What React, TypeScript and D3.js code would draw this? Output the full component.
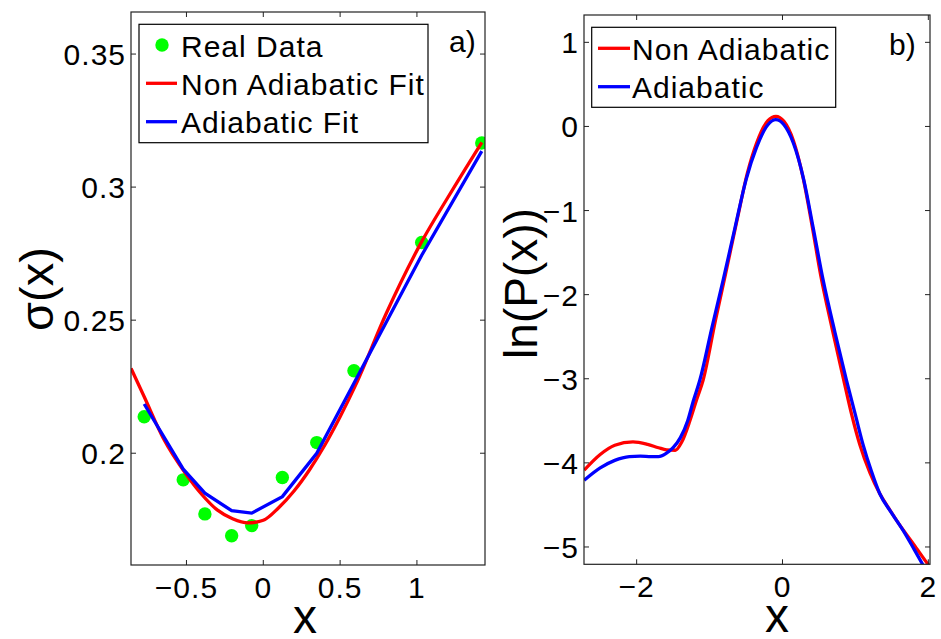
import React from 'react';
import * as d3 from 'd3';

// Panel a) data
const realX = [-0.775, -0.521, -0.38, -0.206, -0.0755, 0.124, 0.348, 0.59, 1.031, 1.422];
const realY = [0.2137, 0.19, 0.1772, 0.169, 0.1728, 0.1909, 0.204, 0.231, 0.2792, 0.3166];

const nonAdFitX = [-0.861, -0.775, -0.65, -0.5, -0.4, -0.3, -0.2, -0.1, 0, 0.1, 0.2, 0.3, 0.4, 0.5, 0.6, 0.8, 1.031, 1.2, 1.422];
const nonAdFitY = [0.2319, 0.2212, 0.2055, 0.1919, 0.1845, 0.1787, 0.1754, 0.1738, 0.1748, 0.1795, 0.1858, 0.1937, 0.203, 0.2137, 0.2255, 0.2525, 0.2795, 0.296, 0.3168];

const adFitX = [-0.775, -0.521, -0.38, -0.206, -0.0755, 0.124, 0.348, 0.59, 1.031, 1.422];
const adFitY = [0.2185, 0.194, 0.185, 0.1784, 0.1775, 0.1837, 0.2, 0.2263, 0.2744, 0.3135];

// Panel b) data
const nonAdPX = [-2.72, -2.5, -2.3, -2.05, -1.85, -1.7, -1.59, -1.47, -1.38, -1.27, -1.178, -1.088, -0.918, -0.78, -0.62, -0.48, -0.356, -0.2, -0.09, 0.02, 0.15, 0.28, 0.41, 0.52, 0.68, 0.84, 0.95, 1.059, 1.2, 1.333, 1.45, 1.562, 1.69, 1.8, 1.973, 2.05];
const nonAdPY = [-4.087, -3.9, -3.79, -3.75, -3.78, -3.82, -3.845, -3.85, -3.75, -3.5, -3.25, -3.015, -2.3, -1.75, -1.1, -0.55, -0.2, 0.07, 0.12, 0.06, -0.17, -0.6, -1.2, -1.75, -2.4, -3.015, -3.43, -3.78, -4.12, -4.364, -4.53, -4.68, -4.84, -4.97, -5.18, -5.27];

const adPX = [-2.72, -2.5, -2.3, -2.1, -1.95, -1.8, -1.7, -1.6, -1.5, -1.4, -1.3, -1.225, -1.133, -0.97, -0.813, -0.65, -0.5, -0.356, -0.2, -0.092, 0.02, 0.15, 0.292, 0.42, 0.557, 0.72, 0.877, 1.0, 1.104, 1.22, 1.333, 1.5, 1.652, 1.8, 1.95];
const adPY = [-4.207, -4.06, -3.97, -3.925, -3.92, -3.925, -3.925, -3.89, -3.82, -3.7, -3.5, -3.27, -3.015, -2.4, -1.825, -1.2, -0.635, -0.25, 0.02, 0.08, 0.02, -0.2, -0.635, -1.2, -1.825, -2.45, -3.015, -3.43, -3.78, -4.1, -4.364, -4.6, -4.8, -5.02, -5.25];

const xTicksA = [-0.5, 0, 0.5, 1];
const yTicksA = [0.2, 0.25, 0.3, 0.35];
const xTicksB = [-2, 0, 2];
const yTicksB = [-5, -4, -3, -2, -1, 0, 1];

const legendA = ['Real Data', 'Non Adiabatic Fit', 'Adiabatic Fit'];
const legendB = ['Non Adiabatic', 'Adiabatic'];

const RED = '#ff0000';
const BLUE = '#0000ff';
const GREEN = '#00ff00';
const FONT = '"Liberation Sans", Arial, Helvetica, sans-serif';
const fmt = (v: number) => String(v).replace('-', '\u2212');

type Pt = [number, number];
const zip = (xs: number[], ys: number[]): Pt[] => xs.map((x, i) => [x, ys[i]]);

function Frame({ x, y, xt, yt, id }: any) {
  const [x0, x1] = x.range();
  const [y0, y1] = y.range();
  const tl = 5;
  return (
    <g>
      <rect x={x0} y={y1} width={x1 - x0} height={y0 - y1} fill="none" stroke="#222" strokeWidth={1.2} />
      {xt.map((t: number) => (
        <g key={'x' + id + t}>
          <line x1={x(t)} x2={x(t)} y1={y0} y2={y0 - tl} stroke="#222" />
          <line x1={x(t)} x2={x(t)} y1={y1} y2={y1 + tl} stroke="#222" />
          <text x={x(t)} y={y0 + 33} textAnchor="middle" fontSize={30} letterSpacing={1} fontFamily={FONT} fill="#000">{fmt(t)}</text>
        </g>
      ))}
      {yt.map((t: number) => (
        <g key={'y' + id + t}>
          <line x1={x0} x2={x0 + tl} y1={y(t)} y2={y(t)} stroke="#222" />
          <line x1={x1} x2={x1 - tl} y1={y(t)} y2={y(t)} stroke="#222" />
          <text x={x0 - 5} y={y(t) + 11} textAnchor="end" fontSize={30} letterSpacing={1} fontFamily={FONT} fill="#000">{fmt(t)}</text>
        </g>
      ))}
    </g>
  );
}

export default function App() {
  const xA = d3.scaleLinear().domain([-0.861, 1.443]).range([131, 485]);
  const yA = d3.scaleLinear().domain([0.158, 0.3658]).range([565, 12]);
  const xB = d3.scaleLinear().domain([-2.722, 2.023]).range([584, 930]);
  const yB = d3.scaleLinear().domain([-5.206, 1.325]).range([564.3, 15]);

  const lineA = d3.line<Pt>().x(d => xA(d[0])).y(d => yA(d[1]));
  const smoothA = d3.line<Pt>().x(d => xA(d[0])).y(d => yA(d[1])).curve(d3.curveMonotoneX);
  const smoothB = d3.line<Pt>().x(d => xB(d[0])).y(d => yB(d[1])).curve(d3.curveMonotoneX);

  return (
    <svg width={941} height={639} style={{ position: 'absolute', left: 0, top: 0, background: '#fff' }}>
      <defs>
        <clipPath id="clipA"><rect x={131} y={12} width={354} height={553} /></clipPath>
        <clipPath id="clipB"><rect x={584} y={15} width={346} height={549.3} /></clipPath>
      </defs>
      <rect x={0} y={0} width={941} height={639} fill="#fff" />

      {/* Panel a */}
      <g clipPath="url(#clipA)">
        {zip(realX, realY).map((d, i) => (
          <circle key={i} cx={xA(d[0])} cy={yA(d[1])} r={6.7} fill={GREEN} />
        ))}
        <path d={smoothA(zip(nonAdFitX, nonAdFitY)) || ''} fill="none" stroke={RED} strokeWidth={3.3} />
        <path d={lineA(zip(adFitX, adFitY)) || ''} fill="none" stroke={BLUE} strokeWidth={3.3} />
      </g>
      <Frame x={xA} y={yA} xt={xTicksA} yt={yTicksA} id="a" />
      <text x={305} y={633} textAnchor="middle" fontSize={48} fontFamily={FONT}>x</text>
      <text transform="translate(53,289) rotate(-90)" textAnchor="middle" fontSize={47} fontFamily={FONT}>σ(x)</text>
      <text x={449} y={52} fontSize={30} fontFamily={FONT}>a)</text>

      <g>
        <rect x={139} y={24.3} width={289} height={118.4} fill="#fff" stroke="#000" strokeWidth={1.2} />
        <circle cx={162} cy={45} r={6.7} fill={GREEN} />
        <line x1={146} x2={177} y1={83.3} y2={83.3} stroke={RED} strokeWidth={3.3} />
        <line x1={146} x2={177} y1={121.7} y2={121.7} stroke={BLUE} strokeWidth={3.3} />
        {legendA.map((t, i) => (
          <text key={t} x={181} y={56.7 + i * 38.2} fontSize={30} letterSpacing={1} fontFamily={FONT}>{t}</text>
        ))}
      </g>

      {/* Panel b */}
      <g clipPath="url(#clipB)">
        <path d={smoothB(zip(nonAdPX, nonAdPY)) || ''} fill="none" stroke={RED} strokeWidth={3.3} />
        <path d={smoothB(zip(adPX, adPY)) || ''} fill="none" stroke={BLUE} strokeWidth={3.3} />
      </g>
      <Frame x={xB} y={yB} xt={xTicksB} yt={yTicksB} id="b" />
      <text x={777} y={632} textAnchor="middle" fontSize={48} fontFamily={FONT}>x</text>
      <text transform="translate(537,283.5) rotate(-90)" textAnchor="middle" fontSize={46} fontFamily={FONT}>ln(P(x))</text>
      <text x={889} y={55} fontSize={30} fontFamily={FONT}>b)</text>

      <g>
        <rect x={591.7} y={27.3} width={244} height={80} fill="#fff" stroke="#000" strokeWidth={1.2} />
        <line x1={598} x2={630} y1={48.3} y2={48.3} stroke={RED} strokeWidth={3.3} />
        <line x1={598} x2={630} y1={86.7} y2={86.7} stroke={BLUE} strokeWidth={3.3} />
        {legendB.map((t, i) => (
          <text key={t} x={632} y={60 + i * 38.3} fontSize={30} letterSpacing={1} fontFamily={FONT}>{t}</text>
        ))}
      </g>
    </svg>
  );
}
